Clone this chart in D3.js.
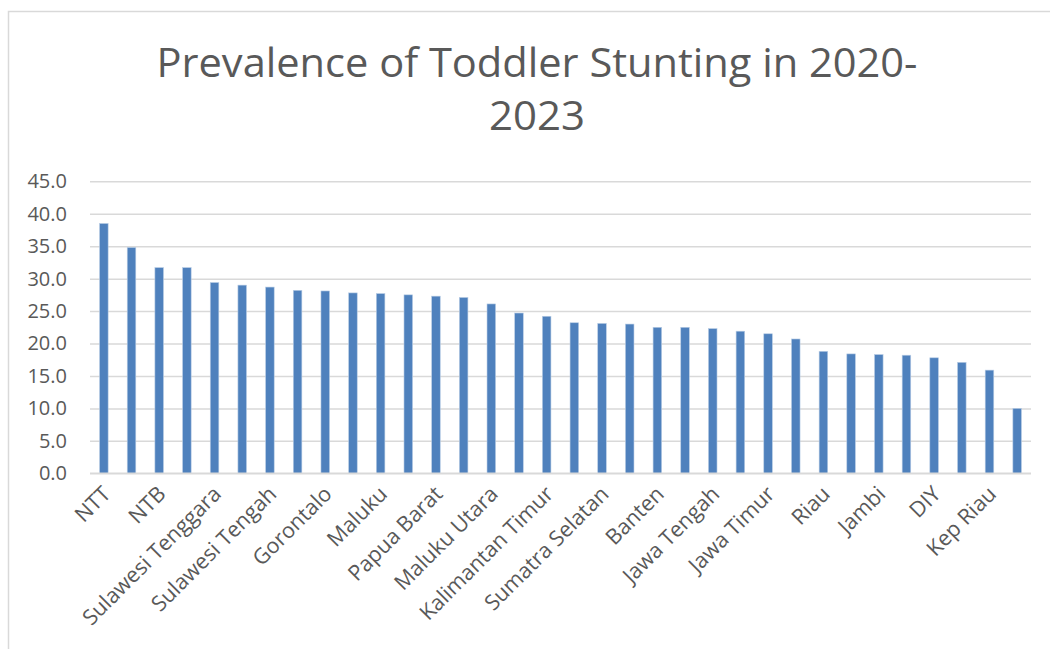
<!DOCTYPE html>
<html>
<head>
<meta charset="utf-8">
<script src="https://cdn.jsdelivr.net/npm/d3@7"></script>
<style>
  body { margin: 0; background: #fff; }
  text { font-family: "Open Sans", sans-serif; fill: #595959; }
</style>
</head>
<body>
<div id="chart"></div>
<script>
// provinces, sorted by prevalence (only every other one gets a label, like Excel did)
const provinces = [
  "NTT", "Sulawesi Barat", "NTB", "Aceh", "Sulawesi Tenggara", "Kalimantan Barat",
  "Sulawesi Tengah", "Kalimantan Selatan", "Gorontalo", "Sulawesi Selatan", "Maluku",
  "Papua", "Papua Barat", "Kalimantan Tengah", "Maluku Utara", "Sumatra Barat",
  "Kalimantan Timur", "Sumatra Utara", "Sumatra Selatan", "Jawa Barat", "Banten",
  "Kalimantan Utara", "Jawa Tengah", "Bengkulu", "Jawa Timur", "Kep Bangka Belitung",
  "Riau", "Lampung", "Jambi", "DKI Jakarta", "DIY", "Sulawesi Utara", "Kep Riau", "Bali"
];
const prevalence = [
  38.5, 34.8, 31.7, 31.7, 29.4, 29.0, 28.7, 28.2, 28.1, 27.8, 27.7,
  27.5, 27.3, 27.1, 26.1, 24.7, 24.2, 23.2, 23.1, 23.0, 22.5,
  22.5, 22.3, 21.9, 21.5, 20.7, 18.8, 18.4, 18.3, 18.2, 17.8,
  17.1, 15.9, 10.0
];
const yTicks = [0, 5, 10, 15, 20, 25, 30, 35, 40, 45];
const titleLines = ["Prevalence of Toddler Stunting in 2020-", "2023"];

const width = 1050, height = 649;
const plot = { left: 90, right: 1031, top: 181.3, bottom: 473.3 };

const svg = d3.select("#chart").append("svg")
  .attr("width", width)
  .attr("height", height);

// chart area frame (runs off the right and bottom edge)
svg.append("rect")
  .attr("x", 8.5).attr("y", 11.5)
  .attr("width", 1100).attr("height", 700)
  .attr("fill", "#fff")
  .attr("stroke", "#d9d9d9")
  .attr("stroke-width", 1.5);

// title
svg.append("g").selectAll("text")
  .data(titleLines)
  .enter()
  .append("text")
  .attr("x", 537)
  .attr("y", (d, i) => 77 + i * 53)
  .attr("text-anchor", "middle")
  .attr("font-size", 41)
  .attr("textLength", (d, i) => i === 0 ? 761 : 96)
  .attr("lengthAdjust", "spacingAndGlyphs")
  .text(d => d);

const x = d3.scaleBand()
  .domain(provinces)
  .range([plot.left, plot.right])
  .paddingInner(0.69)
  .paddingOuter(0.345);

const y = d3.scaleLinear()
  .domain([0, 45])
  .range([plot.bottom, plot.top]);

// gridlines + y labels
const yAxis = svg.append("g")
  .attr("transform", "translate(" + plot.left + ",0)")
  .call(d3.axisLeft(y)
    .tickValues(yTicks)
    .tickSize(-(plot.right - plot.left))
    .tickPadding(23)
    .tickFormat(d3.format(".1f")));
yAxis.select(".domain").remove();
yAxis.selectAll(".tick line")
  .attr("stroke", "#d9d9d9")
  .attr("stroke-width", 1.5);
yAxis.selectAll(".tick text")
  .attr("font-size", 20)
  .attr("fill", "#595959");

// bars
svg.append("g")
  .selectAll("rect")
  .data(prevalence)
  .enter()
  .append("rect")
  .attr("x", (d, i) => x(provinces[i]))
  .attr("y", d => y(d))
  .attr("width", x.bandwidth())
  .attr("height", d => y(0) - y(d))
  .attr("fill", "#4f81bd")
  .attr("stroke", "#b9cde5")
  .attr("stroke-width", 0.6);

// category labels, every other one
const xAxis = svg.append("g")
  .attr("transform", "translate(0," + plot.bottom + ")")
  .call(d3.axisBottom(x)
    .tickValues(provinces.filter((d, i) => i % 2 === 0))
    .tickSize(0)
    .tickPadding(0));
xAxis.select(".domain")
  .attr("d", "M" + plot.left + ",0H" + plot.right)
  .attr("stroke", "#d9d9d9")
  .attr("stroke-width", 1.5);
xAxis.selectAll(".tick text")
  .attr("font-size", 21.5)
  .attr("fill", "#595959")
  .attr("text-anchor", "end")
  .attr("dy", 0)
  .attr("transform", "translate(8,22) rotate(-45)");
</script>
</body>
</html>
